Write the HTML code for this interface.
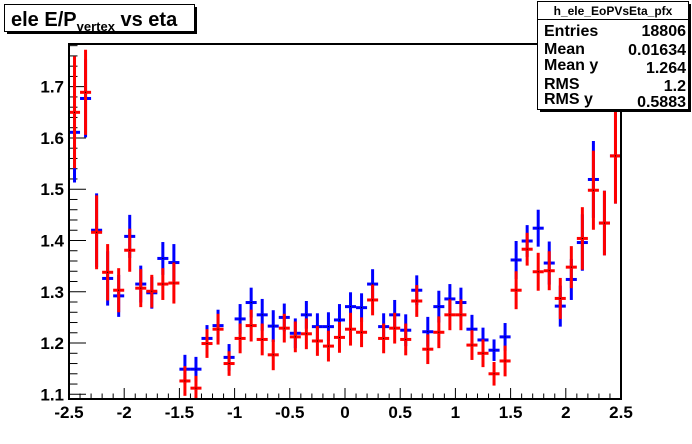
<!DOCTYPE html>
<html><head><meta charset="utf-8"><style>
html,body{margin:0;padding:0;background:#fff;}
svg{display:block;font-family:"Liberation Sans",Arial,sans-serif;font-weight:bold;}
</style></head><body>
<svg id="c" width="692" height="444" viewBox="0 0 692 444">
<rect x="0" y="0" width="692" height="444" fill="#fff"/>
<g id="axes"></g>
<g id="marks"></g>
<rect x="69" y="44" width="552" height="355" fill="none" stroke="#000" stroke-width="2"/>
<g>
<rect x="7" y="7" width="190" height="27" fill="#000"/>
<rect x="4.5" y="4.5" width="190" height="27" fill="#fff" stroke="#000" stroke-width="1"/>
<text x="11" y="26" font-size="20">ele E/P<tspan font-size="13" dy="5">vertex</tspan><tspan dy="-5"> vs eta</tspan></text>
</g>
<g>
<rect x="540" y="4" width="151" height="108" fill="#000"/>
<rect x="537.5" y="1.5" width="151" height="108" fill="#fff" stroke="#000" stroke-width="1"/>
<line x1="537.5" y1="19.5" x2="688.5" y2="19.5" stroke="#000"/>
<text x="613" y="15" font-size="12" text-anchor="middle">h_ele_EoPVsEta_pfx</text>
<g font-size="16">
<text x="544" y="36">Entries</text><text x="686" y="36" text-anchor="end">18806</text>
<text x="544" y="54">Mean</text><text x="686" y="55" text-anchor="end">0.01634</text>
<text x="544" y="70">Mean y</text><text x="686" y="73" text-anchor="end">1.264</text>
<text x="544" y="89">RMS</text><text x="686" y="91" text-anchor="end">1.2</text>
<text x="544" y="104">RMS y</text><text x="686" y="107" text-anchor="end">0.5883</text>
</g>
</g>
</svg>
<script>
const xMin=-2.5, xMax=2.5, nBins=50;
const xTickLabels=["-2.5","-2","-1.5","-1","-0.5","0","0.5","1","1.5","2","2.5"];
const yTickLabels=["1.1","1.2","1.3","1.4","1.5","1.6","1.7"];
const redValues=[1.650,1.689,1.416,1.338,1.303,1.381,1.307,1.301,1.315,1.317,1.126,1.112,1.199,1.227,1.160,1.209,1.234,1.207,1.177,1.229,1.212,1.218,1.204,1.194,1.211,1.227,1.221,1.284,1.209,1.229,1.207,1.282,1.188,1.221,1.255,1.255,1.196,1.180,1.140,1.165,1.303,1.383,1.339,1.341,1.287,1.348,1.404,1.498,1.434,1.565];
const redErrors=[0.109,0.083,0.072,0.055,0.043,0.042,0.037,0.032,0.031,0.040,0.029,0.024,0.028,0.030,0.024,0.029,0.031,0.031,0.030,0.028,0.030,0.030,0.029,0.030,0.030,0.032,0.029,0.030,0.029,0.030,0.031,0.031,0.029,0.031,0.030,0.030,0.029,0.027,0.023,0.030,0.037,0.032,0.037,0.038,0.040,0.041,0.061,0.077,0.063,0.093];
const blueValues=[1.611,1.677,1.420,1.326,1.292,1.408,1.315,1.298,1.365,1.357,1.149,1.149,1.209,1.234,1.172,1.247,1.279,1.255,1.233,1.250,1.219,1.255,1.232,1.232,1.245,1.271,1.269,1.315,1.232,1.255,1.225,1.303,1.222,1.271,1.286,1.279,1.227,1.206,1.186,1.212,1.362,1.399,1.424,1.356,1.272,1.324,1.396,1.519,1.434,1.565];
const blueErrors=[0.098,0.076,0.072,0.053,0.041,0.042,0.036,0.031,0.032,0.036,0.028,0.024,0.026,0.031,0.026,0.029,0.029,0.031,0.031,0.027,0.029,0.027,0.026,0.028,0.031,0.028,0.028,0.029,0.026,0.029,0.031,0.029,0.029,0.031,0.029,0.029,0.028,0.024,0.021,0.027,0.037,0.031,0.036,0.042,0.040,0.040,0.055,0.075,0.063,0.093];

const PX0=69, PX1=621, Y_AT_11=394.3, PX_PER_UNIT=512.7, PY_TOP=44, PY_BOT=399;
function sx(v){return PX0+(v-xMin)/(xMax-xMin)*(PX1-PX0);}
function sy(v){return Y_AT_11-(v-1.1)*PX_PER_UNIT;}
const NS="http://www.w3.org/2000/svg";
function mk(tag,attrs,parent){const e=document.createElementNS(NS,tag);for(const k in attrs)e.setAttribute(k,attrs[k]);parent.appendChild(e);return e;}
const axes=document.getElementById('axes'), marks=document.getElementById('marks');
for(let i=0;i<=50;i++){const v=xMin+i*0.1;const x=sx(v);const major=(i%5===0);
 const t=mk('line',{x1:x,x2:x,y1:PY_BOT,y2:PY_BOT-(major?11:5.5),stroke:'#000','stroke-width':1},axes);
 
 }
xTickLabels.forEach((lab,i)=>{const t=mk('text',{x:sx(parseFloat(lab)),y:418,'font-size':17,'text-anchor':'middle'},axes);t.textContent=lab;
 
 });
for(let i=-1;i<=34;i++){const v=1.1+i*0.02;const y=sy(v);if(y<PY_TOP||y>PY_BOT)continue;const major=(i%5===0);
 const t=mk('line',{x1:PX0,x2:PX0+(major?17:8.5),y1:y,y2:y,stroke:'#000','stroke-width':1},axes);
 
 }
yTickLabels.forEach(lab=>{const t=mk('text',{x:64,y:sy(parseFloat(lab))+6,'font-size':17,'text-anchor':'end'},axes);t.textContent=lab;
 
 });
const defs=mk('defs',{},document.getElementById('c'));
const cp=mk('clipPath',{id:'pc'},defs);mk('rect',{x:PX0,y:PY_TOP,width:PX1-PX0,height:PY_BOT-PY_TOP},cp);
marks.setAttribute('clip-path','url(#pc)');
function drawSeries(vals,errs,color,name){
 const g=mk('g',{},marks);
 
 
 const bw=(xMax-xMin)/nBins;
 vals.forEach((v,i)=>{const c=xMin+(i+0.5)*bw;const x=sx(c);const y=sy(v);
  const e=mk('line',{x1:x,x2:x,y1:sy(v+errs[i]),y2:sy(v-errs[i]),stroke:color,'stroke-width':3},g);
  
  
  const h=mk('line',{x1:sx(c-bw/2),x2:sx(c+bw/2),y1:y,y2:y,stroke:color,'stroke-width':3},g);
  
  
  const d=mk('rect',{x:x-0.5,y:y-0.5,width:1,height:1,fill:'#000'},g);
  
  
 });
}
drawSeries(blueValues,blueErrors,'#0000ff','blue-series');
drawSeries(redValues,redErrors,'#ff0000','red-series');
</script>
</body></html>
